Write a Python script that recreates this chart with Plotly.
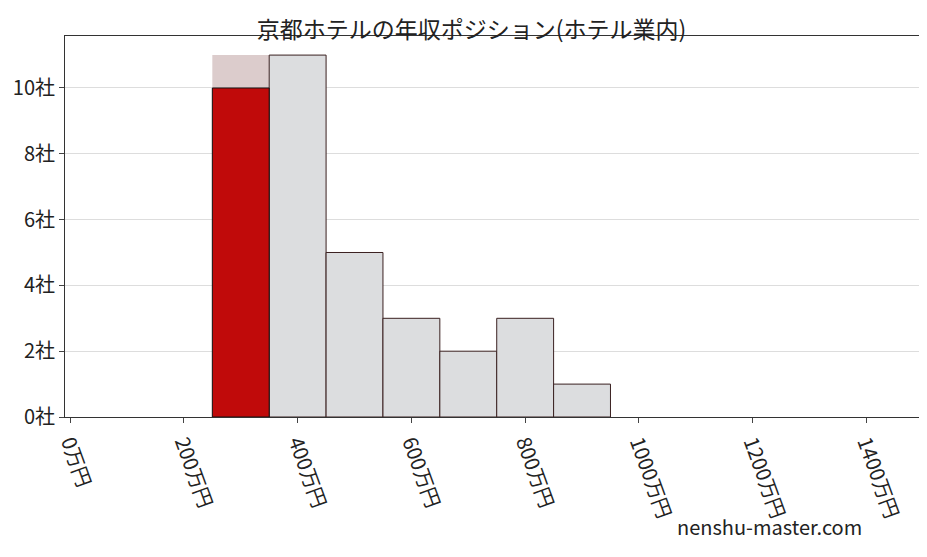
import plotly.graph_objects as go

# bin centres (万円) and company counts
bin_centers = [300, 400, 500, 600, 700, 800, 900]
counts = [11, 11, 5, 3, 2, 3, 1]
highlight_center = 300
highlight_value = 10
tick_vals = [0, 200, 400, 600, 800, 1000, 1200, 1400]
tick_text = [f"{v}万円" for v in tick_vals]
y_ticks = [0, 2, 4, 6, 8, 10]

font = "Noto Sans CJK JP"

bg_colors = ["#dccccc" if c == highlight_center else "#dcdddf" for c in bin_centers]
line_colors = ["rgba(0,0,0,0)" if c == highlight_center else "#3a2020" for c in bin_centers]

fig = go.Figure()
fig.add_trace(go.Bar(
    x=bin_centers, y=counts, width=100,
    marker=dict(color=bg_colors, line=dict(color=line_colors, width=1)),
))
fig.add_trace(go.Bar(
    x=[highlight_center], y=[highlight_value], width=100,
    marker=dict(color="#c00a0a", line=dict(color="#111111", width=1)),
))

fig.update_layout(
    barmode="overlay",
    showlegend=False,
    width=927, height=557,
    plot_bgcolor="white", paper_bgcolor="white",
    margin=dict(l=54, r=5, t=28, b=148),
    title=dict(text="京都ホテルの年収ポジション(ホテル業内)", x=0.5, y=0.975,
               font=dict(family=font, size=23, color="#222")),
    font=dict(family=font, size=20, color="#222"),
)
fig.update_xaxes(range=[-9, 1510], tickvals=tick_vals, ticktext=tick_text,
                 tickangle=70, showline=True, linecolor="#333", mirror=True,
                 ticks="outside", showgrid=False, zeroline=False)
fig.update_yaxes(range=[0, 11.58], tickvals=y_ticks,
                 ticktext=[f"{v}社" for v in y_ticks],
                 showline=True, linecolor="#333", mirror=True, ticks="outside",
                 showgrid=True, gridcolor="#dddddd", zeroline=False)
fig.add_annotation(text="nenshu-master.com", xref="paper", yref="paper",
                   x=0.925, y=-0.33, xanchor="right", showarrow=False,
                   font=dict(family=font, size=20, color="#222"))

fig.write_html("out.html")
